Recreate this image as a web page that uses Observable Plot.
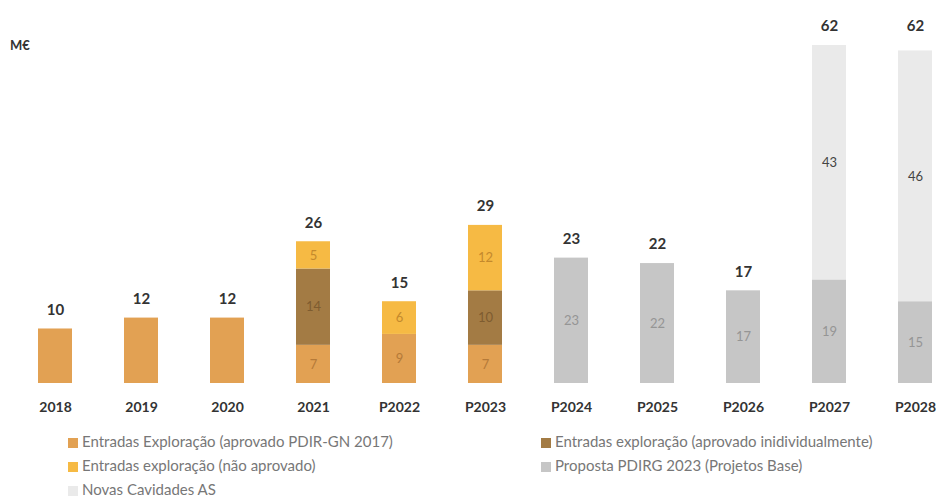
<!DOCTYPE html>
<html>
<head>
<meta charset="utf-8">
<script src="https://cdn.jsdelivr.net/npm/d3@7"></script>
<script src="https://cdn.jsdelivr.net/npm/@observablehq/plot@0.6"></script>
<style>
  html, body { margin: 0; padding: 0; background: #fff; }
  #wrap { position: relative; width: 936px; height: 497px; font-family: Lato, "Open Sans", sans-serif; }
  #unit { position: absolute; left: 10px; top: 37px; font-weight: 700; font-size: 13px; color: #333; }
  .lg { position: absolute; font-size: 15px; color: #777; white-space: nowrap; line-height: 16px; }
  .lg span.sw { display: inline-block; width: 10px; height: 10px; margin-right: 4px; vertical-align: -1px; }
</style>
</head>
<body>
<div id="wrap"><div id="chart"></div><div id="unit">M€</div></div>
<script>
const categories = ["2018","2019","2020","2021","P2022","P2023","P2024","P2025","P2026","P2027","P2028"];
const seriesNames = [
  "Entradas Exploração (aprovado PDIR-GN 2017)",
  "Entradas exploração (aprovado inidividualmente)",
  "Entradas exploração (não aprovado)",
  "Proposta PDIRG 2023 (Projetos Base)",
  "Novas Cavidades AS"
];
const aprovadoPDIR   = [10, 12, 12, 7, 9, 7, 0, 0, 0, 0, 0];
const aprovadoIndiv  = [0, 0, 0, 14, 0, 10, 0, 0, 0, 0, 0];
const naoAprovado    = [0, 0, 0, 5, 6, 12, 0, 0, 0, 0, 0];
const propostaBase   = [0, 0, 0, 0, 0, 0, 23, 22, 17, 19, 15];
const novasCavidades = [0, 0, 0, 0, 0, 0, 0, 0, 0, 43, 46];
const totals         = [10, 12, 12, 26, 15, 29, 23, 22, 17, 62, 62];
// categories whose segments carry an inner value label in the original
const innerLabelled  = [false, false, false, true, true, true, true, true, true, true, true];

const seriesColors = ["#E2A153", "#A37B44", "#F6BA44", "#C6C6C6", "#EAEAEA"];
const labelColors  = ["#B57A38", "#7E5C30", "#C4892C", "#959595", "#444444"];

const seriesValues = [aprovadoPDIR, aprovadoIndiv, naoAprovado, propostaBase, novasCavidades];
const rows = [];
categories.forEach((c, i) => {
  seriesValues.forEach((vals, s) => {
    if (vals[i] > 0) rows.push({cat: c, series: seriesNames[s], value: vals[i], lc: labelColors[s], show: innerLabelled[i]});
  });
});
const totalRows = categories.map((c, i) => ({cat: c, total: totals[i]}));

const chart = Plot.plot({
  width: 936,
  height: 420,
  marginLeft: 38,
  marginRight: 4,
  marginTop: 45,
  marginBottom: 37,
  style: {fontFamily: "Lato, 'Open Sans', sans-serif", background: "#fff"},
  x: {domain: categories, paddingInner: 0.61, paddingOuter: 0, label: null},
  y: {domain: [0, 62], axis: null},
  color: {domain: seriesNames, range: seriesColors},
  marks: [
    Plot.barY(rows, Plot.stackY({x: "cat", y: "value", z: "series", fill: "series"})),
    Plot.text(rows, Plot.stackY({x: "cat", y: "value", z: "series", text: d => d.show ? String(d.value) : "", fill: "lc", fontSize: 13})),
    Plot.text(totalRows, {x: "cat", y: "total", text: d => String(d.total), dy: -19, fontSize: 15, fontWeight: 700, fill: "#333"}),
    Plot.axisX({tickSize: 0, tickPadding: 19, fontSize: 14, fontWeight: 700, fill: "#333", label: null})
  ]
});
document.getElementById("chart").appendChild(chart);

const legendPos = [
  {left: 68, top: 433}, {left: 541, top: 433},
  {left: 68, top: 457}, {left: 541, top: 457},
  {left: 68, top: 481}
];
const wrap = document.getElementById("wrap");
seriesNames.forEach((name, s) => {
  const d = document.createElement("div");
  d.className = "lg";
  d.style.left = legendPos[s].left + "px";
  d.style.top = legendPos[s].top + "px";
  d.innerHTML = `<span class="sw" style="background:${seriesColors[s]}"></span>`;
  d.appendChild(document.createTextNode(name));
  wrap.appendChild(d);
});
</script>
</body>
</html>
